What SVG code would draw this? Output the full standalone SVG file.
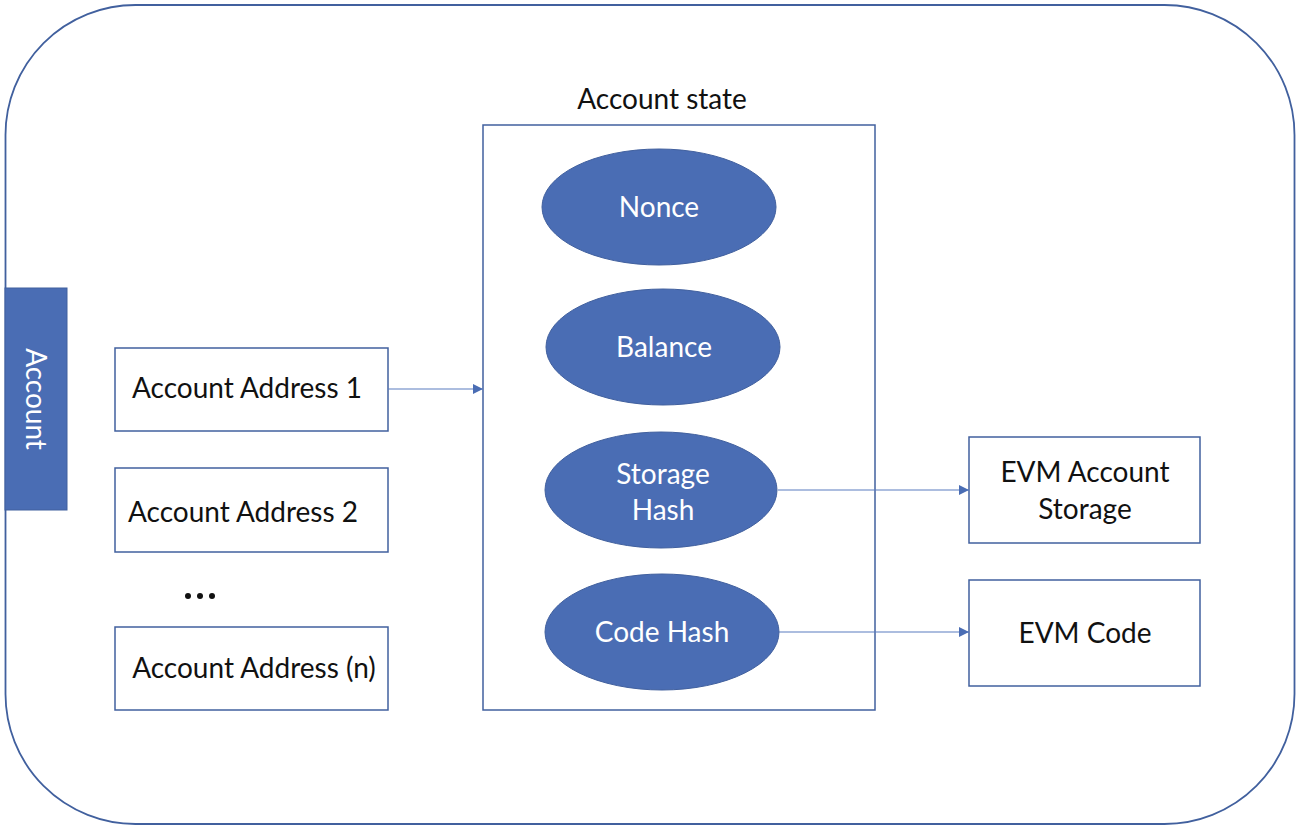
<svg xmlns="http://www.w3.org/2000/svg" width="1300" height="829" viewBox="0 0 1300 829">
<style>
.box{fill:#ffffff;stroke:#41609e;stroke-width:1.5}
.ell{fill:#4a6db4;stroke:#41609e;stroke-width:1}
.t{font-family:Lato,"Open Sans",sans-serif;font-size:28px;fill:#111111;text-anchor:middle}
.w{font-family:Lato,"Open Sans",sans-serif;font-size:28px;fill:#ffffff;text-anchor:middle}
.c{stroke:#5a7dc0;stroke-width:1.2;fill:none;marker-end:url(#ah)}
</style>
<defs>
<marker id="ah" viewBox="0 0 10 10" refX="10" refY="5" markerWidth="10" markerHeight="10" markerUnits="userSpaceOnUse" orient="auto">
<path d="M0,0 L10,5 L0,10 z" fill="#4a6db4"/>
</marker>
</defs>
<rect id="frame" x="5.5" y="5" width="1289" height="819" rx="130" ry="130" fill="#ffffff" stroke="#41609e" stroke-width="1.8"/>
<g id="account-bar">
<rect x="5" y="288" width="62" height="222" fill="#4a6db4" stroke="#41609e" stroke-width="1"/>
<text class="w" transform="translate(26,399) rotate(90)">Account</text>
</g>
<g id="addr1"><rect class="box" x="115" y="348" width="273" height="83"/><text class="t" x="247" y="398">Account Address 1</text></g>
<g id="addr2"><rect class="box" x="115" y="468" width="273" height="84"/><text class="t" x="243" y="522">Account Address 2</text></g>
<g id="dots"><circle cx="188" cy="596" r="3" fill="#111"/><circle cx="200" cy="596" r="3" fill="#111"/><circle cx="212" cy="596" r="3" fill="#111"/></g>
<g id="addrn"><rect class="box" x="115" y="627" width="273" height="83"/><text class="t" x="254" y="678">Account Address (n)</text></g>
<g id="account-state">
<text class="t" x="662" y="109">Account state</text>
<rect class="box" x="483" y="125" width="392" height="585"/>
</g>
<g id="nonce"><ellipse class="ell" cx="659" cy="207" rx="117" ry="58"/><text class="w" x="659" y="217">Nonce</text></g>
<g id="balance"><ellipse class="ell" cx="663" cy="347" rx="117" ry="58"/><text class="w" x="664" y="357">Balance</text></g>
<g id="storage-hash"><ellipse class="ell" cx="661" cy="490" rx="116" ry="58"/><text class="w" x="663" y="484" font-size="33">Storage</text><text class="w" x="663" y="520" font-size="33">Hash</text></g>
<g id="code-hash"><ellipse class="ell" cx="662" cy="632" rx="117" ry="58"/><text class="w" x="662" y="642">Code Hash</text></g>
<g id="evm-storage"><rect class="box" x="969" y="437" width="231" height="106"/><text class="t" x="1085" y="482">EVM Account</text><text class="t" x="1085" y="519">Storage</text></g>
<g id="evm-code"><rect class="box" x="969" y="580" width="231" height="106"/><text class="t" x="1085" y="643">EVM Code</text></g>
<g id="connectors">
<line class="c" x1="388" y1="389" x2="483" y2="389"/>
<line class="c" x1="778" y1="490" x2="969" y2="490"/>
<line class="c" x1="779" y1="632" x2="969" y2="632"/>
</g>
</svg>
